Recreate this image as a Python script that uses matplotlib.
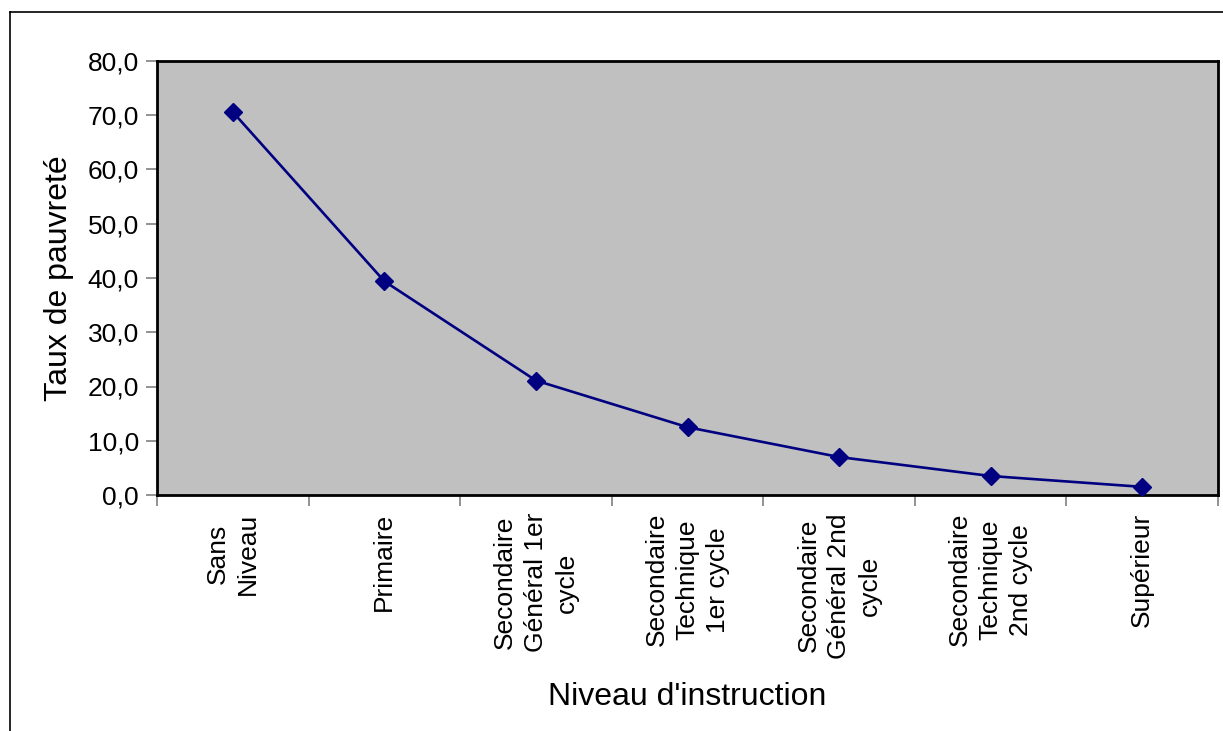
import matplotlib
matplotlib.use('Agg')
import matplotlib.pyplot as plt
from matplotlib.lines import Line2D
import numpy as np

plt.rcParams['font.family'] = ['Liberation Sans', 'DejaVu Sans']

categories = [
    "Sans\nNiveau",
    "Primaire",
    "Secondaire\nGénéral 1er\ncycle",
    "Secondaire\nTechnique\n1er cycle",
    "Secondaire\nGénéral 2nd\ncycle",
    "Secondaire\nTechnique\n2nd cycle",
    "Supérieur",
]
taux = [70.6, 39.4, 21.1, 12.5, 7.0, 3.5, 1.5]
yticks = [0, 10, 20, 30, 40, 50, 60, 70, 80]


def draw_chart():
    fig = plt.figure(figsize=(12.23, 7.31), dpi=100)
    ax = fig.add_axes([157 / 1223, 1 - 495 / 731, (1218 - 157) / 1223, (495 - 61) / 731])
    ax.set_facecolor('#c0c0c0')

    x = np.arange(len(categories))
    ax.plot(x, taux, color='#000080', linewidth=1.9, marker='D', markersize=9.5,
            markerfacecolor='#000080', markeredgecolor='#000080', zorder=3)

    ax.set_xlim(-0.5, len(categories) - 0.5)
    ax.set_ylim(0, 80)

    ax.set_yticks(yticks)
    ax.set_yticklabels([('%.1f' % v).replace('.', ',') for v in yticks], fontsize=19)
    ax.tick_params(axis='y', direction='out', length=8, width=1.2, color='#808080', pad=5)

    # category labels between the boundary ticks
    ax.set_xticks(np.arange(-0.5, len(categories), 1.0))
    ax.set_xticklabels([])
    ax.tick_params(axis='x', direction='out', length=8, width=1.2, color='#808080')
    ax.set_xticks(x, minor=True)
    ax.set_xticklabels(categories, minor=True, rotation=90, fontsize=19,
                       va='top', ha='center', multialignment='center', linespacing=1.35)
    ax.tick_params(axis='x', which='minor', length=0, pad=13)

    for side in ['left', 'bottom', 'right', 'top']:
        ax.spines[side].set_linewidth(2.0)
        ax.spines[side].set_color('black')

    ax.set_ylabel("Taux de pauvreté", fontsize=23, labelpad=10)
    ax.set_xlabel("Niveau d'instruction", fontsize=23, labelpad=17)

    # outer frame (left and top edges)
    fig.add_artist(Line2D([10 / 1223, 10 / 1223], [0, 1 - 12 / 731], color='black', linewidth=1.2))
    fig.add_artist(Line2D([10 / 1223, 1], [1 - 12 / 731, 1 - 12 / 731], color='black', linewidth=1.2))

    fig.savefig('out.png', dpi=100)


if __name__ == '__main__':
    draw_chart()
